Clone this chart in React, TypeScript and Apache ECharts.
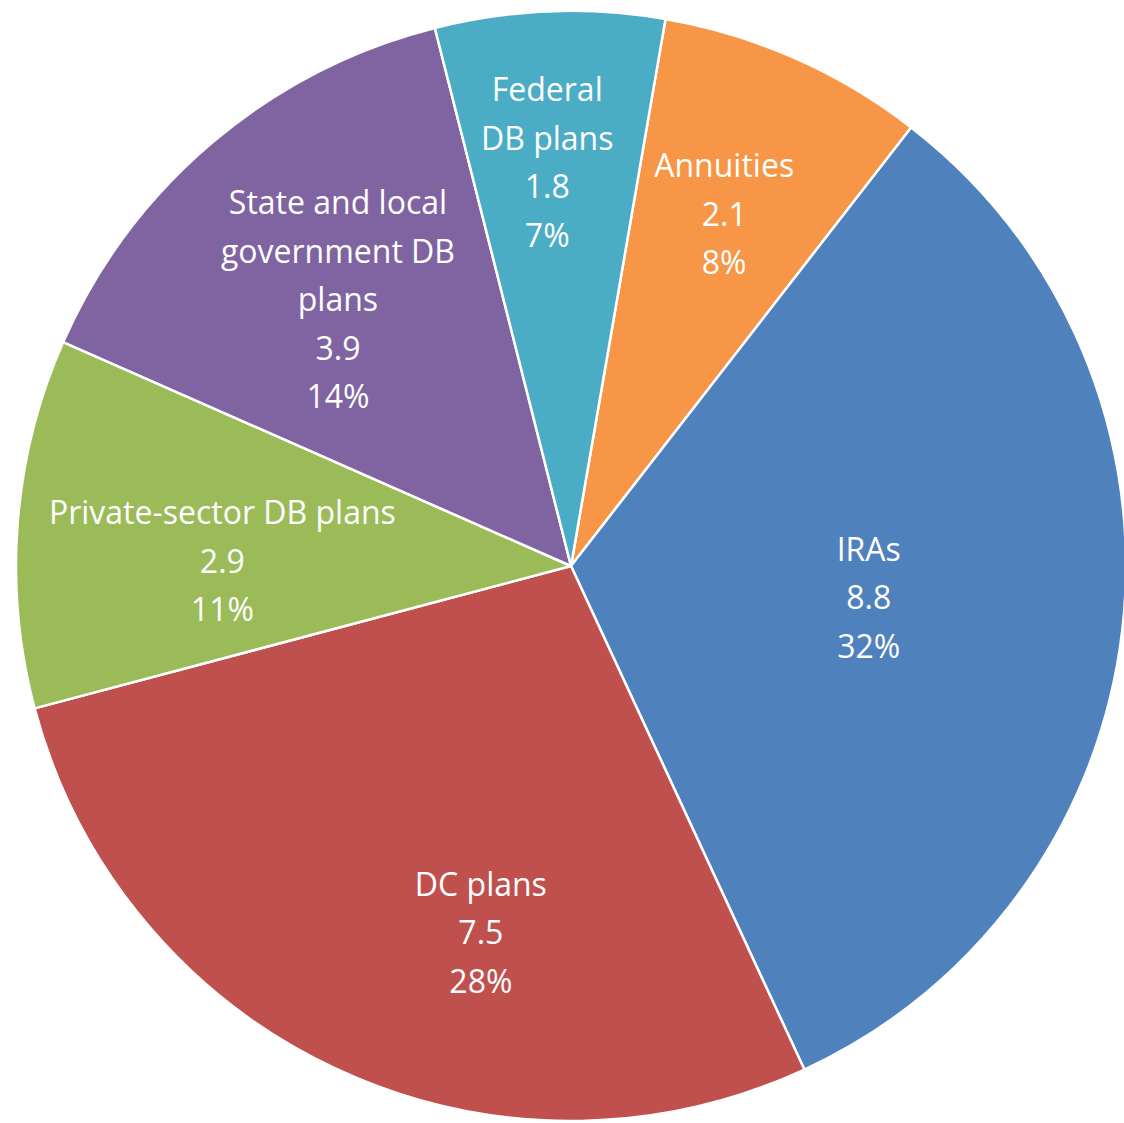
import React, { useEffect, useRef } from "react";
import * as echarts from "echarts";

const categories = [
  "Annuities",
  "IRAs",
  "DC plans",
  "Private-sector DB plans",
  "State and local\ngovernment DB\nplans",
  "Federal\nDB plans",
];
const values = [2.1, 8.8, 7.5, 2.9, 3.9, 1.8];
const colors = ["#F79646", "#4F81BD", "#C0504D", "#9BBB59", "#8064A2", "#4BACC6"];
// label nudges from the default inside position (dx, dy)
const labelNudges: [number, number][] = [
  [40, -96],
  [19, -1],
  [29, 112],
  [-69, 16],
  [-52, -53],
  [-13, -124],
];

export default function App() {
  const ref = useRef<HTMLDivElement>(null);
  useEffect(() => {
    document.body.style.margin = "0";
    const chart = echarts.init(ref.current!, null, { renderer: "svg" });
    chart.setOption({
      animation: false,
      backgroundColor: "#ffffff",
      series: [
        {
          type: "pie",
          center: [571, 566],
          radius: 555,
          startAngle: 80.2,
          clockwise: true,
          percentPrecision: 0,
          avoidLabelOverlap: false,
          itemStyle: { borderColor: "#ffffff", borderWidth: 2.5 },
          label: {
            show: true,
            position: "inside",
            formatter: "{b}\n{c}\n{d}%",
            color: "#ffffff",
            fontFamily: "Open Sans",
            fontSize: 32,
            lineHeight: 48.5,
            align: "center",
          },
          labelLine: { show: false },
          labelLayout: (params: any) => {
            const n = labelNudges[params.dataIndex];
            return { dx: n[0], dy: n[1] };
          },
          data: categories.map((name, i) => ({
            name,
            value: values[i],
            itemStyle: { color: colors[i] },
          })),
        },
      ],
    });
    return () => chart.dispose();
  }, []);
  return <div ref={ref} style={{ width: 1124, height: 1123 }} />;
}
